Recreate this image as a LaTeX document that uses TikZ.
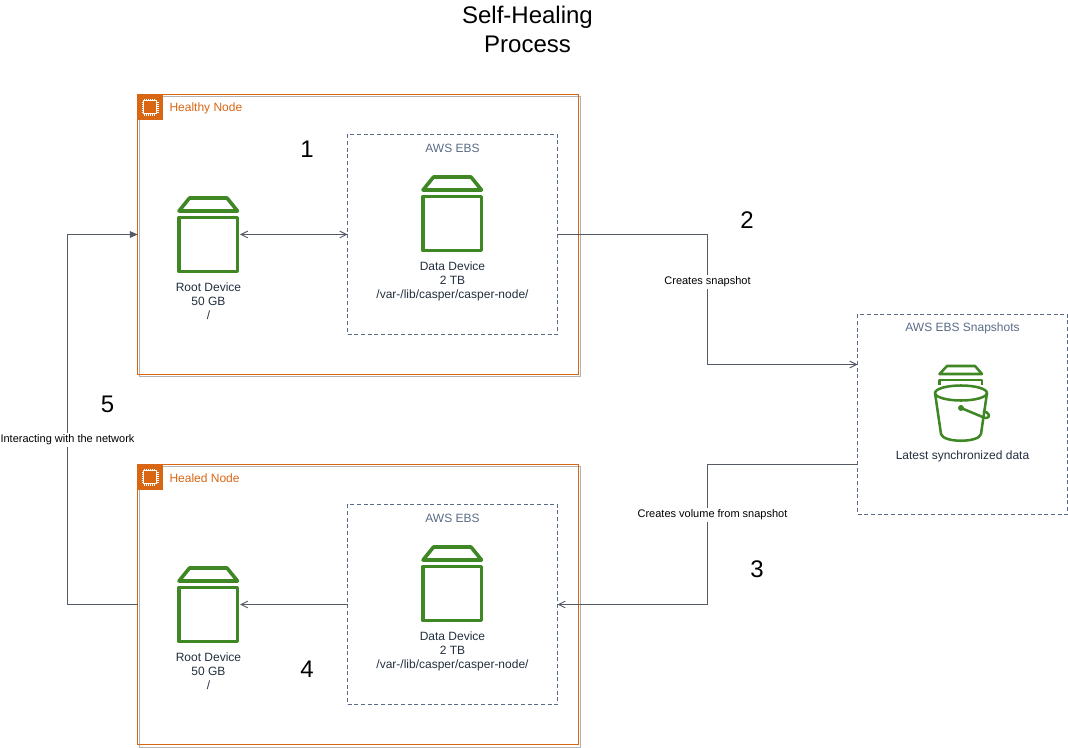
\documentclass[tikz,border=0pt]{standalone}
\usepackage{fontspec}
\setmainfont{Liberation Sans}
\usetikzlibrary{arrows.meta}
\definecolor{awsorange}{HTML}{D86613}
\definecolor{awsgreen}{HTML}{3F8624}
\definecolor{awsslate}{HTML}{5A6B86}
\definecolor{awsink}{HTML}{232F3E}
\definecolor{flowgray}{HTML}{545B64}
\tikzset{
  every node/.style={inner sep=0pt,outer sep=0pt},
  nodeframe/.style={draw=awsorange,line width=0.75pt,minimum width=440.5*0.75pt,minimum height=280*0.75pt},
  nodeshade/.style={draw=black!30,line width=0.75pt},
  ebsframe/.style={draw=awsslate,dashed,dash pattern=on 3pt off 2pt,line width=0.6pt,minimum width=157.5pt,minimum height=150pt},
  iconbox/.style={minimum width=46.5pt,minimum height=57pt},
  caption/.style={text=awsink,align=center,font=\fontsize{9}{10.5}\selectfont},
  grouptitle/.style={text=awsslate,font=\fontsize{9}{10.5}\selectfont},
  nodetitle/.style={text=awsorange,anchor=west,font=\fontsize{9}{10.5}\selectfont},
  edgelabel/.style={fill=white,text=black,inner ysep=1.5pt,font=\fontsize{8.25}{10}\selectfont},
  stepno/.style={text=black,font=\fontsize{18}{21}\selectfont},
  flow/.style={draw=flowgray,line width=0.75pt},
  opentip/.style={-{Straight Barb[length=5pt,width=5pt]}},
  pics/volume/.style={code={
    \draw[awsgreen,line width=2.7pt,line join=round] (12,1.5) -- (49.5,1.5) -- (60,14.5) -- (1.5,14.5) -- cycle;
    \draw[awsgreen,line width=2.7pt,line join=round] (1.5,21) rectangle (60,75);
  }},
  pics/chip/.style={code={
    \fill[awsorange] (0,0) rectangle (25,25);
    \draw[white,line width=0.75pt] (6,6) rectangle (19,19);
    \foreach \p in {7,9,...,18} {
      \draw[white,line width=0.3pt] (\p,4) -- (\p,6) (\p,19) -- (\p,21);
      \draw[white,line width=0.3pt] (4,\p) -- (6,\p) (19,\p) -- (21,\p);
    }
  }}
}
\begin{document}
\begin{tikzpicture}[x=0.75pt,y=-0.75pt]
  \useasboundingbox (0,0) rectangle (1068,748);
  \node[align=center,text=black,font=\fontsize{18}{21.75}\selectfont] (title) at (527.5,29.5) {Self-Healing\\Process};
  % healthy node
  \begin{scope}
    \draw[nodeshade] (139.5,97) rectangle (580,377);
    \node[nodeframe] (healthy) at (358,234.5) {};
    \pic at (137.5,95) {chip};
    \node[nodetitle] (healthyT) at (169.5,108.5) {Healthy Node};
    \node[ebsframe] (ebsA) at (452.5,234.5) {};
    \node[grouptitle] (ebsAT) at (452.5,148) {AWS EBS};
    \pic at (421.5,175.5) {volume};
    \node[iconbox] (dataA) at (452,214) {};
    \node[caption] (dataAT) at (452.5,281) {Data Device\\2 TB\\/var-/lib/casper/casper-node/};
    \pic at (177.5,196.5) {volume};
    \node[iconbox] (rootA) at (209,234.5) {};
    \node[caption] (rootAT) at (208.5,301.5) {Root Device\\50 GB\\/};
  \end{scope}
  % healed node
  \begin{scope}[yshift=-277.5pt]
    \draw[nodeshade] (139.5,97) rectangle (580,377);
    \node[nodeframe] (healed) at (358,234.5) {};
    \pic at (137.5,95) {chip};
    \node[nodetitle] (healedT) at (169.5,108.5) {Healed Node};
    \node[ebsframe] (ebsB) at (452.5,234.5) {};
    \node[grouptitle] (ebsBT) at (452.5,148) {AWS EBS};
    \pic at (421.5,175.5) {volume};
    \node[iconbox] (dataB) at (452,214) {};
    \node[caption] (dataBT) at (452.5,281) {Data Device\\2 TB\\/var-/lib/casper/casper-node/};
    \pic at (177.5,196.5) {volume};
    \node[iconbox] (rootB) at (209,234.5) {};
    \node[caption] (rootBT) at (208.5,301.5) {Root Device\\50 GB\\/};
  \end{scope}
  % snapshots
  \node[ebsframe] (snap) at (962.5,414.5) {};
  \node[grouptitle] (snapT) at (962.5,328.5) {AWS EBS Snapshots};
  \node[caption] (snapL) at (962.5,456.5) {Latest synchronized data};
  \begin{scope}[awsgreen,line width=1.9pt,line join=round]
    \draw (947,366) -- (975,366) -- (982,374) -- (939.5,374) -- cycle;
    \draw (939.5,385) -- (939.5,380) -- (982,380) -- (982,385);
    \fill[white] (935,387) rectangle (987,393);
    \draw (961,393) ellipse (26 and 7.5);
    \draw (935,393) -- (941,434) .. controls (943,443) and (979,443) .. (981,434) -- (987,393);
    \fill (961,408) circle (3);
    \draw (961,408) -- (985,418);
    \draw (985,418) .. controls (992,418) and (989,412) .. (983,411);
  \end{scope}
  % connectors
  \coordinate (bendA) at (707.5,300);
  \coordinate (bendB) at (707.5,530);
  \coordinate (bendC) at (67.5,420);
  \coordinate (snapIn) at (857.5,364.5);
  \coordinate (snapOut) at (857.5,464.5);
  \draw[flow,{Straight Barb[length=5pt,width=5pt]}-{Straight Barb[length=5pt,width=5pt]}] (rootA.east) -- (ebsA.west);
  \draw[flow,opentip] (ebsA.east) -| (bendA) |- (snapIn);
  \draw[flow,opentip] (snapOut) -| (bendB) |- (ebsB.east);
  \draw[flow,opentip] (ebsB.west) -- (rootB.east);
  \draw[flow,-{Triangle[length=6pt,width=5pt]}] (healed.west) -| (bendC) |- (healthy.west);
  \node[edgelabel] (labelA) at (707.5,282) {Creates snapshot};
  \node[edgelabel] (labelB) at (712.5,515) {Creates volume from snapshot};
  \node[edgelabel] (labelC) at (67.5,440) {Interacting with the network};
  % step numbers
  \node[stepno] (one) at (307,149) {1};
  \node[stepno] (two) at (747,220) {2};
  \node[stepno] (three) at (757,569) {3};
  \node[stepno] (four) at (307,669) {4};
  \node[stepno] (five) at (107.5,404) {5};
\end{tikzpicture}
\end{document}
